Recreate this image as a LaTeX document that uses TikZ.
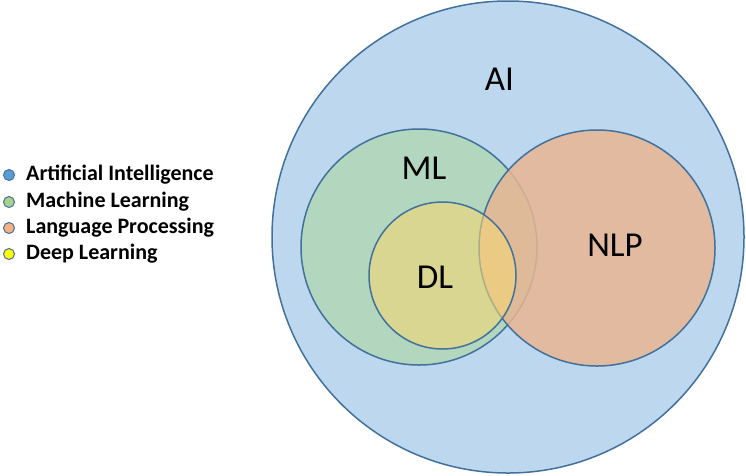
\documentclass[tikz,border=0pt]{standalone}
\usepackage{fontspec}
\setmainfont{Carlito}
\usepackage{xcolor}
\usepackage{tikz}
\usetikzlibrary{positioning}

\definecolor{aiblue}{RGB}{189,215,238}
\definecolor{mlgreen}{RGB}{178,214,190}
\definecolor{nlporange}{RGB}{232,182,146}
\definecolor{dlyellow}{RGB}{243,214,117}
\definecolor{rim}{RGB}{65,113,156}
\definecolor{keyblue}{RGB}{91,155,213}
\definecolor{keygreen}{RGB}{169,209,142}
\definecolor{keyorange}{RGB}{244,177,131}
\definecolor{keyyellow}{RGB}{255,255,0}

\tikzset{
  setrim/.style={draw=rim, line width=1.5pt},
  biglabel/.style={font=\fontsize{35}{40}\selectfont, inner sep=0pt},
  keydot/.style={circle, draw=rim, line width=1pt, minimum size=11pt, inner sep=0pt},
  keytext/.style={font=\fontsize{22}{26}\selectfont\bfseries, anchor=west, inner sep=0pt}
}

\begin{document}
\begin{tikzpicture}[x=1pt, y=-1pt]
\useasboundingbox (0,0) rectangle (746,475);
% sets
\draw[setrim, fill=aiblue] (508,237) circle (236pt);
\draw[setrim, fill=mlgreen] (419,247) circle (118pt);
\draw[setrim, fill=nlporange, fill opacity=0.85] (597,248) circle (118pt);
\draw[setrim, fill=dlyellow, fill opacity=0.6] (442.5,275.5) circle (73.5pt);
\node[biglabel] (ai) at (499.5,79.5) {AI};
\node[biglabel] (ml) at (424,168) {ML};
\node[biglabel] (dl) at (435,277.5) {DL};
\node[biglabel] (nlp) at (615,245.5) {NLP};
% legend
\node[keydot, fill=keyblue] (k1) at (9,175) {};
\node[keydot, fill=keygreen] (k2) at (9,202) {};
\node[keydot, fill=keyorange] (k3) at (9,228) {};
\node[keydot, fill=keyyellow] (k4) at (9,254) {};
\node[keytext, right=11pt of k1] (t1) {Artificial Intelligence};
\node[keytext, right=11pt of k2] (t2) {Machine Learning};
\node[keytext, right=11pt of k3] (t3) {Language Processing};
\node[keytext, right=11pt of k4] (t4) {Deep Learning};
\end{tikzpicture}
\end{document}
